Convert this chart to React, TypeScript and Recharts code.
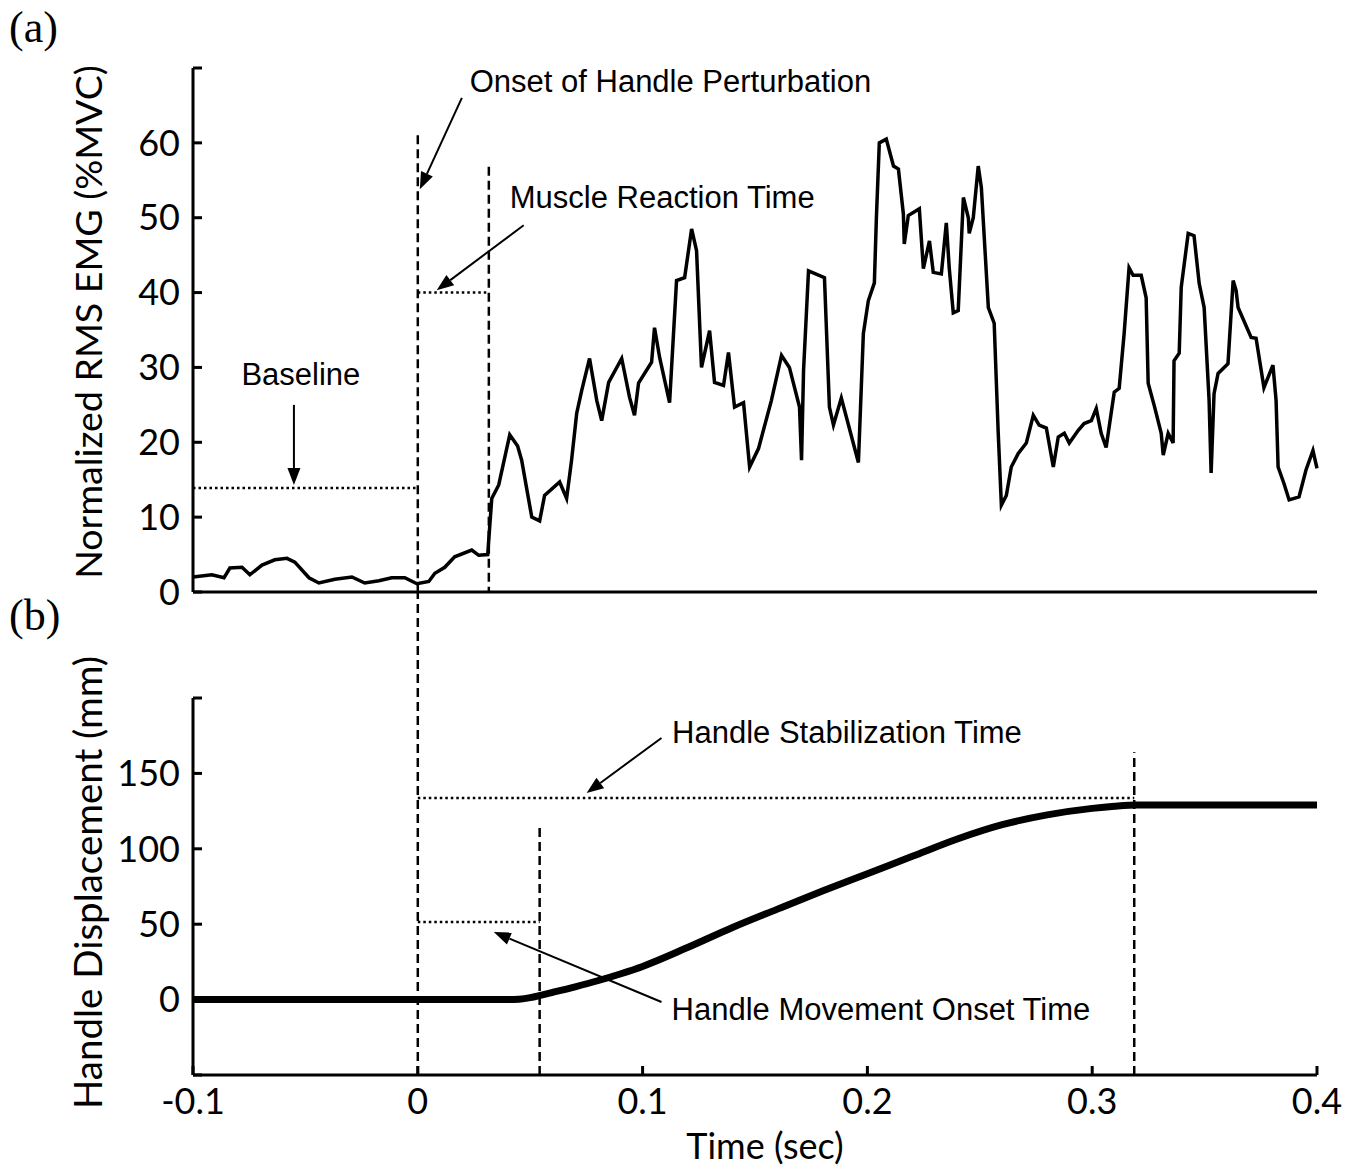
import { LineChart, Line, XAxis, YAxis, ReferenceLine, ReferenceDot } from 'recharts';

const X_TICKS = [-0.1, 0, 0.1, 0.2, 0.3, 0.4];
const EMG_TICKS = [0, 10, 20, 30, 40, 50, 60, 70];
const DISP_TICKS = [-50, 0, 50, 100, 150, 200];

// (a) normalized RMS EMG, time in seconds
const EMG_T = [
  -0.1, -0.0916, -0.0862, -0.0836, -0.0782, -0.0747, -0.0693, -0.0636, -0.0582, -0.0547,
  -0.0484, -0.044, -0.0369, -0.0293, -0.0236, -0.0173, -0.0116, -0.0058, -0.0004, 0.0049,
  0.0076, 0.012, 0.0164, 0.024, 0.0271, 0.0311, 0.0329, 0.036, 0.0409, 0.0444,
  0.0462, 0.0507, 0.0542, 0.0564, 0.0631, 0.0662, 0.0684, 0.0707, 0.0729, 0.0764,
  0.0796, 0.0818, 0.0849, 0.0907, 0.0942, 0.0964, 0.0982, 0.104, 0.1053, 0.1076,
  0.112, 0.1151, 0.1187, 0.1218, 0.124, 0.1262, 0.1298, 0.132, 0.136, 0.1382,
  0.1409, 0.1449, 0.1476, 0.1516, 0.1573, 0.1618, 0.1653, 0.1698, 0.1707, 0.1716,
  0.1738, 0.1809, 0.1831, 0.1849, 0.1884, 0.196, 0.1982, 0.2004, 0.2031, 0.204,
  0.2053, 0.2084, 0.2116, 0.2138, 0.216, 0.2164, 0.2182, 0.2231, 0.2249, 0.2276,
  0.2293, 0.2329, 0.2351, 0.2364, 0.2382, 0.2404, 0.2427, 0.2449, 0.2453, 0.2471,
  0.2493, 0.2507, 0.2538, 0.2564, 0.2582, 0.2596, 0.2618, 0.264, 0.2671, 0.2707,
  0.2738, 0.2764, 0.2796, 0.2827, 0.2849, 0.2876, 0.2898, 0.2938, 0.2964, 0.2996,
  0.3018, 0.304, 0.3062, 0.3098, 0.312, 0.3142, 0.3164, 0.3182, 0.3218, 0.324,
  0.3249, 0.3276, 0.3307, 0.3316, 0.3338, 0.336, 0.3364, 0.3387, 0.3396, 0.3427,
  0.3453, 0.3476, 0.3498, 0.352, 0.3529, 0.3542, 0.356, 0.3604, 0.3627, 0.364,
  0.3649, 0.3707, 0.3729, 0.3764, 0.3804, 0.3818, 0.3827, 0.3853, 0.3876, 0.392,
  0.3951, 0.3982, 0.4,
];
const EMG_V = [
  2.0, 2.3, 1.9, 3.2, 3.3, 2.3, 3.6, 4.3, 4.5, 4.0,
  1.9, 1.2, 1.7, 2.0, 1.2, 1.5, 1.9, 1.9, 1.1, 1.4,
  2.5, 3.3, 4.7, 5.6, 4.9, 5.0, 12.5, 14.3, 21.0, 19.5,
  17.6, 10, 9.5, 12.9, 14.7, 12.5, 17.6, 23.9, 26.9, 31.2,
  25.6, 22.9, 28, 31.2, 26, 23.6, 27.9, 30.7, 35.3, 31.3,
  25.3, 41.6, 42, 48.5, 45.6, 30, 34.9, 28, 27.6, 32,
  24.7, 25.3, 16.7, 19.2, 25.6, 31.6, 30, 24.7, 17.6, 29.6,
  42.9, 42, 24.7, 22.3, 25.9, 17.3, 34.5, 38.9, 41.3, 50,
  60, 60.5, 56.9, 56.5, 50.5, 46.5, 50.3, 51.2, 43.2, 46.9,
  42.7, 42.5, 49.3, 43.3, 37.3, 37.6, 52.7, 50, 47.9, 50,
  56.9, 54, 38, 35.9, 21.2, 11.6, 12.9, 16.7, 18.5, 19.9,
  23.6, 22.3, 21.9, 16.7, 20.7, 21.2, 19.9, 21.6, 22.5, 22.9,
  24.5, 21.2, 19.3, 26.7, 27.2, 34.5, 43.3, 42.3, 42.3, 39.3,
  27.9, 24.9, 21.2, 18.3, 21.2, 19.9, 30.9, 31.9, 40.7, 47.9,
  47.6, 41.2, 38, 25.6, 15.9, 26.5, 29.2, 30.5, 41.6, 40.3,
  38, 34, 33.9, 27.3, 30.3, 25.6, 16.7, 14.5, 12.3, 12.7,
  16.3, 18.9, 16.5,
];

// (b) handle displacement (mm)
const DISP_T = [-0.1, 0, 0.03, 0.04, 0.045, 0.05, 0.055, 0.06, 0.07, 0.08, 0.09, 0.1, 0.12, 0.14, 0.16, 0.18, 0.2, 0.22, 0.24, 0.26, 0.28, 0.3, 0.31, 0.32, 0.4];
const DISP_V = [0, 0, 0, 0, 0.3, 1.3, 3, 4.8, 8.5, 12.5, 17, 22, 34.5, 47.8, 60, 72, 83.5, 95, 106.5, 116, 122.5, 126.8, 128.2, 129, 129];

// event markers
const MUSCLE_REACTION = 0.0316;
const MOVE_ONSET = 0.0542;
const STABILIZED = 0.3187;
const BASELINE_LEVEL = 13.9;

const TOP_NOTES = [
  { t: 0.0231, v: 66.8, text: 'Onset of Handle Perturbation', anchor: 'start' },
  { t: 0.0409, v: 51.3, text: 'Muscle Reaction Time', anchor: 'start' },
  { t: -0.052, v: 27.6, text: 'Baseline', anchor: 'middle' },
];
const TOP_ARROWS = [
  [0.0196, 66.0, 0.0009, 53.8],
  [0.0471, 49.0, 0.0084, 40.3],
  [-0.0551, 25, -0.0551, 14.3],
];
const BOTTOM_NOTES = [
  { t: 0.1131, v: 170, text: 'Handle Stabilization Time', anchor: 'start' },
  { t: 0.1129, v: -13.5, text: 'Handle Movement Onset Time', anchor: 'start' },
];
const BOTTOM_ARROWS = [
  [0.1084, 173.5, 0.0751, 137],
  [0.1084, -1.6, 0.0338, 44.8],
];

const DASH = '9 5';
const DOT = '2.5 3';
const tickFont = { fill: '#000', fontSize: 36, fontFamily: 'Lato' };
const axisStroke = { stroke: '#000', strokeWidth: 3 };

function Arrow(p: any) {
  const { x1, y1, x2, y2 } = p;
  const a = Math.atan2(y2 - y1, x2 - x1);
  const len = 17, half = 6.5;
  const bx = x2 - len * Math.cos(a), by = y2 - len * Math.sin(a);
  const px = -Math.sin(a) * half, py = Math.cos(a) * half;
  return (
    <g>
      <line x1={x1} y1={y1} x2={bx} y2={by} stroke="#000" strokeWidth={2} />
      <polygon points={`${x2},${y2} ${bx + px},${by + py} ${bx - px},${by - py}`} fill="#000" />
    </g>
  );
}

const note = (text: string, anchor: string) => (p: any) => (
  <text x={p.cx} y={p.cy} textAnchor={anchor} fontFamily="Liberation Sans, Arial" fontSize={31} fill="#000">{text}</text>
);

function AxisTitle(props: any) {
  const { viewBox, text, dx = 0, dy = 0, vertical, size = 36 } = props;
  const x = vertical ? viewBox.x + dx : viewBox.x + viewBox.width / 2 + dx;
  const y = vertical ? viewBox.y + viewBox.height / 2 + dy : viewBox.y + dy;
  return (
    <text x={x} y={y} textAnchor="middle" dominantBaseline={vertical ? 'central' : 'auto'}
      transform={vertical ? `rotate(-90 ${x} ${y})` : undefined} fontFamily="Lato" fontSize={size} fill="#000">{text}</text>
  );
}

export default function App() {
  const emg = EMG_T.map((t, i) => ({ t, v: EMG_V[i] }));
  const disp = DISP_T.map((t, i) => ({ t, v: DISP_V[i] }));

  return (
    <div style={{ position: 'absolute', left: 0, top: 0, width: 1357, height: 1170, background: '#fff' }}>
      {/* (b) displacement, drawn full-page so the onset line can run up through the gap */}
      <div style={{ position: 'absolute', left: 0, top: 0 }}>
        <LineChart width={1357} height={1170} data={disp} margin={{ top: 698, right: 40, bottom: 0, left: 0 }}>
          <XAxis type="number" dataKey="t" domain={[-0.1, 0.4]} ticks={X_TICKS} interval={0}
            height={95} axisLine={axisStroke} tickLine={axisStroke} tickSize={-9} tickMargin={22} tick={tickFont}
            label={<AxisTitle text="Time (sec)" dx={10} dy={84} />} />
          <YAxis type="number" domain={[-50, 200]} ticks={DISP_TICKS} interval={0} width={193}
            axisLine={axisStroke} tickLine={axisStroke} tickSize={-9} tickMargin={22} tick={tickFont}
            tickFormatter={(v: number) => (v === -50 || v === 200 ? '' : String(v))}
            label={<AxisTitle text="Handle Displacement (mm)" vertical dx={87} dy={-4} size={38.5} />} />
          <ReferenceLine segment={[{ x: 0, y: -50 }, { x: 0, y: 270 }]} ifOverflow="visible" stroke="#000" strokeWidth={2.5} strokeDasharray={DASH} />
          <ReferenceLine segment={[{ x: MOVE_ONSET, y: -50 }, { x: MOVE_ONSET, y: 113.9 }]} stroke="#000" strokeWidth={2.5} strokeDasharray={DASH} />
          <ReferenceLine segment={[{ x: STABILIZED, y: -50 }, { x: STABILIZED, y: 164 }]} stroke="#000" strokeWidth={2.5} strokeDasharray={DASH} />
          <ReferenceLine segment={[{ x: 0, y: 133.7 }, { x: STABILIZED, y: 133.7 }]} stroke="#000" strokeWidth={2.5} strokeDasharray={DOT} />
          <ReferenceLine segment={[{ x: 0, y: 51.5 }, { x: MOVE_ONSET, y: 51.5 }]} stroke="#000" strokeWidth={2.5} strokeDasharray={DOT} />
          {BOTTOM_ARROWS.map((a, i) => (
            <ReferenceLine key={'ba' + i} segment={[{ x: a[0], y: a[1] }, { x: a[2], y: a[3] }]} shape={Arrow} />
          ))}
          {BOTTOM_NOTES.map((n) => (
            <ReferenceDot key={n.text} x={n.t} y={n.v} r={1} shape={note(n.text, n.anchor)} />
          ))}
          <Line type="monotone" dataKey="v" stroke="#000" strokeWidth={7} dot={false} isAnimationActive={false} />
        </LineChart>
      </div>

      {/* (a) EMG */}
      <div style={{ position: 'absolute', left: 0, top: 0 }}>
        <LineChart width={1357} height={632} data={emg} margin={{ top: 68, right: 40, bottom: 0, left: 0 }}>
          <XAxis type="number" dataKey="t" domain={[-0.1, 0.4]} ticks={X_TICKS} interval={0}
            height={40} axisLine={axisStroke} tickLine={axisStroke} tickSize={-9} tick={false} />
          <YAxis type="number" domain={[0, 70]} ticks={EMG_TICKS} interval={0} width={193}
            axisLine={axisStroke} tickLine={axisStroke} tickSize={-9} tickMargin={22} tick={tickFont}
            tickFormatter={(v: number) => (v === 70 ? '' : String(v))}
            label={<AxisTitle text="Normalized RMS EMG (%MVC)" vertical dx={87} dy={-8} size={37.5} />} />
          <ReferenceLine segment={[{ x: 0, y: 61 }, { x: 0, y: 0 }]} stroke="#000" strokeWidth={2.5} strokeDasharray={DASH} />
          <ReferenceLine segment={[{ x: MUSCLE_REACTION, y: 56.8 }, { x: MUSCLE_REACTION, y: 0 }]} stroke="#000" strokeWidth={2.5} strokeDasharray={DASH} />
          <ReferenceLine segment={[{ x: -0.1, y: BASELINE_LEVEL }, { x: 0, y: BASELINE_LEVEL }]} stroke="#000" strokeWidth={2.5} strokeDasharray={DOT} />
          <ReferenceLine segment={[{ x: 0, y: 40 }, { x: MUSCLE_REACTION, y: 40 }]} stroke="#000" strokeWidth={2.5} strokeDasharray={DOT} />
          {TOP_ARROWS.map((a, i) => (
            <ReferenceLine key={'ta' + i} segment={[{ x: a[0], y: a[1] }, { x: a[2], y: a[3] }]} shape={Arrow} />
          ))}
          {TOP_NOTES.map((n) => (
            <ReferenceDot key={n.text} x={n.t} y={n.v} r={1} shape={note(n.text, n.anchor)} />
          ))}
          <Line type="linear" dataKey="v" stroke="#000" strokeWidth={3.5} dot={false} isAnimationActive={false} />
        </LineChart>
      </div>

      <div style={{ position: 'absolute', left: 9, top: 2, fontFamily: 'Liberation Serif', fontSize: 44, lineHeight: '52px' }}>(a)</div>
      <div style={{ position: 'absolute', left: 9, top: 590, fontFamily: 'Liberation Serif', fontSize: 44, lineHeight: '52px' }}>(b)</div>
    </div>
  );
}
